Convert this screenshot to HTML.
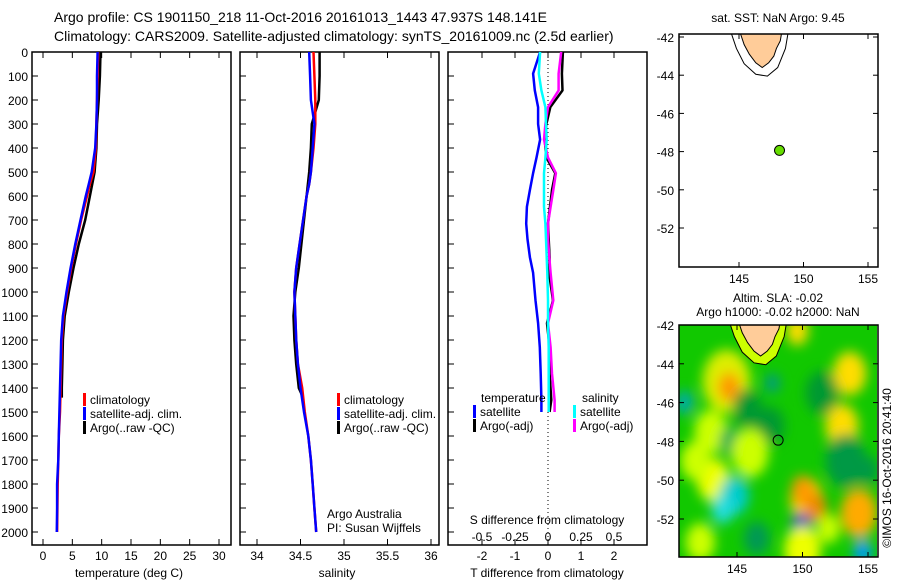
<!DOCTYPE html>
<html><head><meta charset="utf-8"><style>
body{margin:0;background:#fff}
svg{display:block;font-family:"Liberation Sans",sans-serif}
text{fill:#000}
</style></head><body>
<svg id="c" width="900" height="580" viewBox="0 0 900 580" xmlns="http://www.w3.org/2000/svg">
<defs>
<filter id="bl" x="-50%" y="-50%" width="200%" height="200%"><feGaussianBlur stdDeviation="6"/></filter>
<clipPath id="clipMap"><rect x="679" y="325" width="198" height="232"/></clipPath>
<clipPath id="clipMapTop"><rect x="679" y="34" width="199" height="233"/></clipPath>
</defs>
<text x="54" y="22" font-size="14">Argo profile: CS 1901150_218 11-Oct-2016 20161013_1443 47.937S 148.141E</text>
<text x="54" y="41" font-size="14">Climatology: CARS2009. Satellite-adjusted climatology: synTS_20161009.nc (2.5d earlier)</text>
<g id="g"></g>
</svg>
<script>
// ---- data ----
const depthT = [0,100,200,300,400,500,550,600,700,800,900,1000,1100,1200,1300,1400,1500,1600,1700,1800,1900,2000];
const tempClim = [9.4,9.3,9.2,9.1,9.0,8.6,8.0,7.5,6.5,5.6,4.8,4.1,3.5,3.2,3.1,3.0,2.9,2.7,2.6,2.5,2.45,2.4];
const tempSat  = [9.3,9.2,9.2,9.1,8.9,8.3,7.8,7.3,6.4,5.5,4.7,4.0,3.4,3.1,3.0,2.9,2.8,2.7,2.6,2.4,2.4,2.35];
const depthA = [0,100,200,300,400,500,600,700,800,900,1000,1100,1200,1300,1400,1440];
const tempArgo = [9.8,9.7,9.5,9.2,9.1,8.8,8.0,7.2,6.1,5.2,4.4,3.7,3.4,3.3,3.2,3.2];
const salClim = [34.65,34.66,34.67,34.67,34.65,34.62,34.6,34.57,34.53,34.49,34.45,34.43,34.44,34.45,34.47,34.52,34.55,34.59,34.62,34.64,34.66,34.68];
const salSat  = [34.6,34.61,34.62,34.66,34.64,34.62,34.6,34.57,34.53,34.49,34.45,34.43,34.44,34.45,34.47,34.5,34.54,34.59,34.62,34.64,34.66,34.68];
const salArgo = [34.72,34.72,34.71,34.63,34.62,34.6,34.57,34.54,34.51,34.48,34.44,34.42,34.43,34.45,34.48,34.53];
const depthD = [0,90,160,230,300,365,440,505,575,645,715,780,855,920,1035,1130,1230,1340,1450,1500];
const dTsat  = [-0.24,-0.45,-0.4,-0.3,-0.3,-0.24,-0.35,-0.45,-0.55,-0.64,-0.66,-0.62,-0.55,-0.45,-0.38,-0.3,-0.25,-0.22,-0.2,-0.2];
const dTargo = [0.45,0.42,0.44,0.07,-0.05,-0.1,-0.05,0.22,0.12,0.06,0.0,0.02,0.05,0.03,0.15,-0.03,0.05,0.05,0.1,0.05];
const dSsat  = [-0.06,-0.07,-0.05,-0.02,-0.015,-0.01,-0.02,-0.03,-0.03,-0.03,-0.02,-0.015,-0.01,-0.005,0,0,0.005,0.005,0.005,0.005];
const dSargo = [0.1,0.08,0.08,0.0,-0.02,-0.03,0.0,0.06,0.04,0.02,0.0,0.0,0.01,0.02,0.04,0.0,0.02,0.03,0.05,0.05];
const depthTicks = [0,100,200,300,400,500,600,700,800,900,1000,1100,1200,1300,1400,1500,1600,1700,1800,1900,2000];
const tempTicks = [0,5,10,15,20,25,30];
const salTicks = [34,34.5,35,35.5,36];
const dTTicks = [-2,-1,0,1,2];
const dSTicks = [-0.5,-0.25,0,0.25,0.5];
const latTicks = [-42,-44,-46,-48,-50,-52];
const lonTicks = [145,150,155];
const argoLon = 148.141, argoLat = -47.937;
const blobLon = [144.2,144.4,143.2,150.3,151.0,150.0,154.3,153.0,153.6,149.6,144.8,143.9,147.7,153.3,143.0,145.8,149.9,154.6,141.0,146.5,152.0,141.8,150.0,155.0,147.5,144.5,151.5,146.0,142.2];
const blobLat = [-44.9,-45.2,-50.0,-51.0,-51.4,-50.5,-51.7,-47.2,-44.5,-42.3,-50.8,-51.5,-45.0,-49.0,-47.5,-46.3,-52.4,-53.7,-46.0,-53.0,-52.5,-49.0,-53.6,-49.5,-47.2,-48.0,-45.5,-48.6,-53.2];
const blobR   = [1.3,0.6,0.9,0.9,0.6,0.6,1.0,0.9,0.9,0.6,0.8,0.6,0.4,1.1,0.9,0.8,0.55,0.5,0.5,0.7,0.6,0.8,1.0,0.6,0.8,0.6,0.9,1.0,0.8];
const blobC   = ['#ddee00','#ff9900','#eeff00','#ffcc00','#ee8800','#ff9900','#ffaa00','#ffdd00','#ffdd00','#ffdd00','#00cccc','#22dddd','#009988','#009944','#ccff00','#009933','#0022cc','#0099ff','#00aaaa','#009955','#ccff00','#ccff00','#eeff00','#009944','#009933','#00aa55','#009933','#ccff00','#ccff00'];

const NS='http://www.w3.org/2000/svg';
const G=document.getElementById('g');
function mk(tag,at,parent){const e=document.createElementNS(NS,tag);for(const k in at)e.setAttribute(k,at[k]);(parent||G).appendChild(e);return e;}
function txt(s,x,y,sz,anchor,parent){const t=mk('text',{x:x,y:y,'font-size':sz,'text-anchor':anchor||'start'},parent);t.textContent=s;return t;}

const yD=d=>52+d*0.24;
const xT=v=>43+v*5.867;
const xS=v=>257+(v-34)*87;
const xDT=v=>548+v*33;
const xDS=v=>548+v*132;
const panels=[[32,231],[240,439],[448,647]];
panels.forEach((p,i)=>{
  const r=mk('rect',{x:p[0],y:52,width:p[1]-p[0],height:493,fill:'none',stroke:'#000','stroke-width':1.5});
  
  
  depthTicks.forEach(d=>{
    const l=mk('line',{x1:p[0],x2:p[0]+6,y1:yD(d),y2:yD(d),stroke:'#000'});
    
    
  });
});
depthTicks.forEach(d=>{
  const t=txt(String(d),28,yD(d)+5,12,'end');
  
  
});
function xticks(vals,fx,top,labelY){
  vals.forEach(v=>{
    const x=fx(v);
    const b=mk('line',{x1:x,x2:x,y1:545,y2:539,stroke:'#000'});
    
    
    if(top){const t=mk('line',{x1:x,x2:x,y1:52,y2:58,stroke:'#000'});
      
      }
    const l=txt(String(v),x,labelY,12,'middle');
    
    
  });
}
xticks(tempTicks,xT,true,560);
xticks(salTicks,xS,true,560);
xticks(dTTicks,xDT,true,560);
dSTicks.forEach(v=>{
  const l=txt(String(v),xDS(v),541,12,'middle');
  
  
});
let t;
t=txt('temperature (deg C)',129,577,12,'middle');
t=txt('salinity',337,577,12,'middle');
t=txt('T difference from climatology',547,577,12,'middle');
t=txt('S difference from climatology',547,524,12,'middle');
t=txt('Argo Australia',327,518,12);
t=txt('PI: Susan Wijffels',327,532,12);

const z=mk('line',{x1:xDT(0),x2:xDT(0),y1:52,y2:545,stroke:'#000','stroke-dasharray':'1,3'});



function line(xs,ds,fx,color,name){
  const pts=xs.map((v,i)=>fx(v).toFixed(1)+','+yD(ds[i]).toFixed(1)).join(' ');
  const p=mk('polyline',{points:pts,fill:'none',stroke:color,'stroke-width':2.5,'stroke-linejoin':'round'});
  
  
}
line(tempArgo,depthA,xT,'#000','temp-argo-line');
line(tempClim,depthT,xT,'#f00','temp-clim-line');
line(tempSat,depthT,xT,'#00f','temp-sat-line');
line(salArgo,depthA,xS,'#000','sal-argo-line');
line(salClim,depthT,xS,'#f00','sal-clim-line');
line(salSat,depthT,xS,'#00f','sal-sat-line');
line(dTargo,depthD,xDT,'#000','tdiff-argo-line');
line(dSargo,depthD,xDS,'#f0f','sdiff-argo-line');
line(dTsat,depthD,xDT,'#00f','tdiff-sat-line');
line(dSsat,depthD,xDS,'#0ff','sdiff-sat-line');

function legend(x,y,color,label){
  const r=mk('rect',{x:x,y:y-11,width:3,height:13,fill:color});
  
  
  const l=txt(label,x+7,y,12);
  
  
}
legend(83,404,'#f00','climatology');legend(83,418,'#00f','satellite-adj. clim.');legend(83,432,'#000','Argo(..raw -QC)');
legend(337,404,'#f00','climatology');legend(337,418,'#00f','satellite-adj. clim.');legend(337,432,'#000','Argo(..raw -QC)');
t=txt('temperature',481,402,12);
t=txt('salinity',582,402,12);
legend(473,416,'#00f','satellite');legend(473,430,'#000','Argo(-adj)');
legend(573,416,'#0ff','satellite');legend(573,430,'#f0f','Argo(-adj)');

function mapAxes(top,bottom,lat42,pxLat,lon145,pxLon,title1,title2,heat,nm){
  const lx=lon=>lon145+(lon-145)*pxLon, ly=lat=>lat42+(-42-lat)*pxLat;
  const g=mk('g',{'clip-path':heat?'url(#clipMap)':'url(#clipMapTop)'});
  
  
  if(heat){
    mk('rect',{x:679,y:top,width:199,height:bottom-top,fill:'#11c800'},g);
    const bg=mk('g',{filter:'url(#bl)'},g);
    blobLon.forEach((lo,i)=>{
      const c=mk('ellipse',{cx:lx(lo),cy:ly(blobLat[i]),rx:blobR[i]*pxLon*1.4,ry:blobR[i]*pxLat*1.25,fill:blobC[i]},bg);
      
      
    });
  }
  const cont=[[144.4,-41.8],[144.8,-42.6],[145.4,-43.4],[146.3,-43.95],[147.2,-44.05],[148.0,-43.6],[148.6,-42.6],[148.8,-41.8]];
  const land=[[145.1,-41.8],[145.4,-42.4],[145.8,-42.9],[146.3,-43.35],[146.8,-43.6],[147.3,-43.35],[147.7,-43.0],[147.9,-42.6],[148.2,-42.2],[148.3,-41.8]];
  if(heat){const y=mk('polygon',{points:cont.map(p=>lx(p[0])+','+ly(p[1])).join(' '),fill:'#ccff00',stroke:'#000'},g);
    }
  else{const y=mk('polyline',{points:cont.map(p=>lx(p[0])+','+ly(p[1])).join(' '),fill:'none',stroke:'#000'},g);
    }
  const ld=mk('polygon',{points:land.map(p=>lx(p[0])+','+ly(p[1])).join(' '),fill:'#ffcc99',stroke:'#000','stroke-width':1},g);
  
  
  const dot=mk('circle',{cx:lx(argoLon),cy:ly(argoLat),r:5,fill:heat?'none':'#66dd00',stroke:'#000','stroke-width':1},G);
  
  
  const fr=mk('rect',{x:679,y:top,width:199,height:bottom-top,fill:'none',stroke:'#000','stroke-width':1.5});
  
  
  latTicks.forEach(l=>{
    const a=mk('line',{x1:679,x2:684,y1:ly(l),y2:ly(l),stroke:'#000'});
    
    const b=mk('line',{x1:873,x2:878,y1:ly(l),y2:ly(l),stroke:'#000'});
    
    const s=txt(String(l),674,ly(l)+5,12,'end');
    
  });
  lonTicks.forEach(l=>{
    const a=mk('line',{x1:lx(l),x2:lx(l),y1:bottom,y2:bottom-5,stroke:'#000'});
    
    const b=mk('line',{x1:lx(l),x2:lx(l),y1:top,y2:top+5,stroke:'#000'});
    
    const s=txt(String(l),lx(l),bottom+16,12,'middle');
    
  });
  const a=txt(title1,778,title2?top-23:top-12,12,'middle');
  
  if(title2){const b=txt(title2,778,top-9,12,'middle');
    }
}
mapAxes(34,267,37,19.1,739,12.9,'sat. SST: NaN Argo: 9.45',null,false,'sst-map');
mapAxes(325,557,325,19.4,737,13.1,'Altim. SLA: -0.02','Argo h1000: -0.02 h2000: NaN',true,'sla-map');
t=txt('\u00a9IMOS 16-Oct-2016 20:41:40',0,0,12,'middle');
t.setAttribute('transform','translate(891,468) rotate(-90)');


</script>
</body></html>
